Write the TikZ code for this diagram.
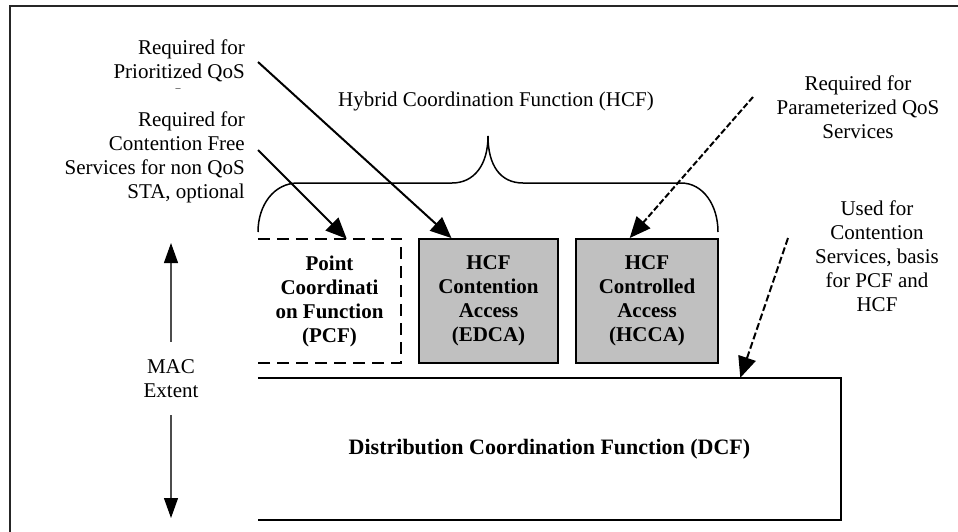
\documentclass[tikz,border=0pt]{standalone}
\usepackage{fontspec}
\setmainfont{Liberation Serif}
\usetikzlibrary{arrows.meta,calc}
\definecolor{boxgray}{HTML}{C0C0C0}
\begin{document}
\begin{tikzpicture}[x=1pt,y=-1pt,
  lbl/.style={font=\fontsize{21}{24}\selectfont, inner sep=0pt, align=center},
  lblr/.style={font=\fontsize{21}{24}\selectfont, inner sep=0pt, align=right, anchor=east},
  boxtext/.style={font=\fontsize{21}{24}\selectfont\bfseries, inner sep=0pt, align=center},
  hbox/.style={boxtext, draw=black, line width=2pt, fill=boxgray, minimum height=124pt},
  bigarrow/.style={line width=2pt, -{Triangle[width=18pt,length=21pt]}},
  dasharrow/.style={bigarrow, dash pattern=on 6pt off 2.5pt},
  dasharrowb/.style={bigarrow, dash pattern=on 7pt off 3pt},
  macarrow/.style={line width=1.2pt, draw=black!70, -{Triangle[width=14pt,length=20pt,fill=black,color=black]}},
  pcfline/.style={line width=2pt, dash pattern=on 12pt off 7pt},
  frame/.style={line width=2pt, draw=black!85}
]
\useasboundingbox (0,0) rectangle (958,531);

% frame (cropped on right and bottom)
\draw[frame] (10,535) -- (10,6) -- (962,6);

% boxes
\node[boxtext, minimum width=143pt, minimum height=124pt] (pcf) at (329.5,301) {Point\\Coordinati\\on Function\\(PCF)};
\draw[pcfline] (pcf.north west) -- (pcf.north east) -- (pcf.south east) -- (pcf.south west);
\node[hbox, minimum width=139pt] (edca) at (488.5,301) {HCF\\Contention\\Access\\(EDCA)};
\node[hbox, minimum width=142pt] (hcca) at (647,301) {HCF\\Controlled\\Access\\(HCCA)};
\node[boxtext, font=\fontsize{22}{24}\selectfont\bfseries, minimum width=583pt, minimum height=142pt] (dcf) at (549.5,449) {Distribution Coordination Function (DCF)};
\draw[line width=2pt] (dcf.north west) -- (dcf.north east) -- (dcf.south east) -- (dcf.south west);

% brace
\draw[line width=1.5pt] (258,232) .. controls (258,205) and (274,183) .. (298,183)
  -- (452,183) .. controls (474,183) and (488,165) .. (488,136)
  .. controls (488,165) and (500,183) .. (523,183)
  -- (681,183) .. controls (703,183) and (718,205) .. (718,232);
\node[lbl] (hcf) at (496,101) {Hybrid Coordination Function (HCF)};

% labels
\node[lblr] (lprio) at (245,61) {Required for\\Prioritized QoS};
\node[lbl, font=\fontsize{10}{10}\selectfont] (ldash) at (178,90) {--};
\node[lblr] (lpcf) at (245,157) {Required for\\Contention Free\\Services for non QoS\\STA, optional};
\node[lbl] (lparam) at (858,107) {Required for\\Parameterized QoS\\Services};
\node[lbl] (ldcf) at (877,256) {Used for\\Contention\\Services, basis\\for PCF and\\HCF};
\node[lbl, minimum height=73pt] (mac) at (171,378.5) {MAC\\Extent};

% arrow start points
\coordinate (s1) at (258,62);
\coordinate (s2) at (258,150);
\coordinate (s3) at (753,97);
\coordinate (s4) at (788,238);
\coordinate (mactop) at (171,243);
\coordinate (macbot) at (171,518);

% connectors
\draw[bigarrow] (s1) -- ($(edca.north west)!0.237!(edca.north east)$);
\draw[bigarrow] (s2) -- ($(pcf.north west)!0.62!(pcf.north east)$);
\draw[dasharrow] (s3) -- ($(hcca.north west)!0.38!(hcca.north east)$);
\draw[dasharrowb] (s4) -- ($(dcf.north west)!0.827!(dcf.north east)$);
\draw[macarrow] (mac.north) -- (mactop);
\draw[macarrow] (mac.south) -- (macbot);
\end{tikzpicture}
\end{document}
